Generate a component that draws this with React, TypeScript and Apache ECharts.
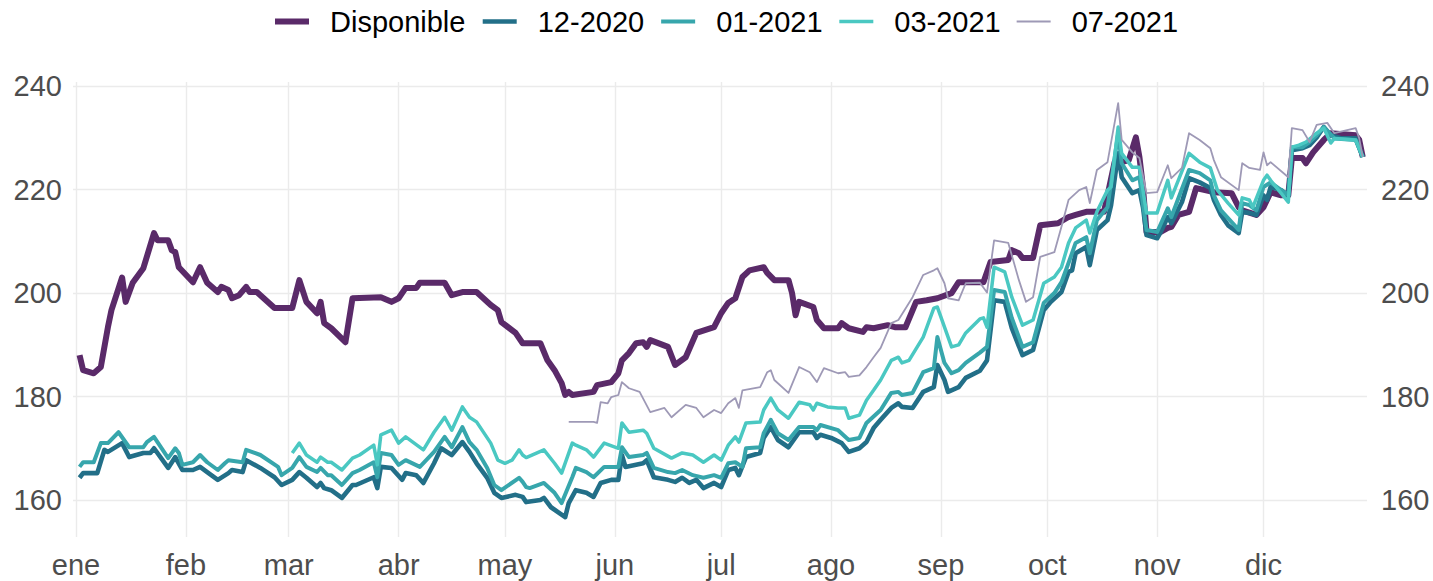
import React, { useEffect, useRef } from "react";
import * as echarts from "echarts";

// Categories / labels
const seriesNames = ["Disponible", "12-2020", "01-2021", "03-2021", "07-2021"];
const monthLabels = ["ene", "feb", "mar", "abr", "may", "jun", "jul", "ago", "sep", "oct", "nov", "dic"];
const yTickLabels = [160, 180, 200, 220, 240];

// Days are day-of-year offsets in 2020 (0 = 1 January 2020)
const dispDays = [1,2,5,7,9,10,13,14,16,19,22,23,26,27,28,29,33,35,37,40,41,43,44,46,48,49,51,56,61,63,65,68,69,70,72,76,78,86,89,91,93,96,97,104,106,109,113,117,119,120,124,126,131,133,135,137,138,139,140,146,147,151,153,154,156,158,160,161,162,167,169,172,175,180,182,184,186,188,190,194,195,197,201,202,203,204,208,209,211,215,216,218,222,223,225,229,231,234,237,240,243,247,249,256,258,263,264,266,267,270,272,277,280,282,285,290,293,295,297,299,300,301,302,306,308,309,311,314,316,321,326,328,329,333,335,337,340,342,343,346,347,349,352,354,361,362,363];
const dispValues = [188,185.1,184.5,185.7,193.4,196.7,203,198.3,202,204.8,211.6,210.2,210.2,208.3,207.9,205,202.1,205,202,200.2,201.2,200.6,199,199.6,201.2,200.2,200.2,197.1,197.1,202.5,198.3,196.1,198.3,194.2,193.2,190.5,199,199.2,198.3,199,201,201,202,202,199.6,200.2,200.2,197.7,196.7,194.4,192.3,190.3,190.3,187,185.1,182.6,180.3,180.9,180.3,180.9,182.2,182.8,184.5,187,188.4,190.3,190.5,189.6,190.9,189.6,186.1,187.6,192.3,193.4,196.1,198.1,199,203.1,204.4,205,203.9,202.5,202.5,200,195.7,198.3,197.3,194.8,193.2,193.2,194.2,193.2,192.5,193.4,193.2,193.8,193.4,193.4,198.3,198.6,199,200,202.1,202.1,206,206.4,208.3,207.7,206.8,206.8,213.1,213.5,214.7,215.1,215.7,215.7,225.3,225.3,225.7,230.1,226.3,220.5,211.8,211.8,212.6,212.8,215.1,215.7,220.3,219.5,219.3,216.6,216,215.1,216.6,219.5,218.9,218.9,226.1,226.1,225.1,227.2,229.6,230.9,230.5,229.6,226.3];

const dec20Days = [1,2,6,8,9,13,15,19,21,22,26,28,30,33,35,37,40,43,44,47,48,52,56,58,61,63,65,68,69,70,72,75,78,79,84,85,86,89,92,93,96,98,101,103,106,109,111,113,116,118,120,124,126,127,131,132,134,138,139,141,144,146,148,151,153,154,155,160,161,163,167,169,171,173,175,177,180,182,184,186,187,189,193,194,196,198,201,204,208,209,210,213,216,218,221,223,225,227,230,232,233,236,239,242,243,245,246,249,251,255,257,259,262,264,267,270,273,275,278,280,281,282,285,286,288,291,292,294,295,298,300,301,302,305,306,308,309,312,314,317,320,321,323,325,328,329,331,333,335,336,337,340,342,343,346,348,350,352,354,357,361,363];
const dec20Values = [164.3,165.2,165.2,169.7,169.3,171,168.3,169.1,169.1,170,166.2,168.3,165.8,165.8,166.4,165.4,163.9,165.2,165.8,165.4,167.7,166.2,164.4,162.9,163.9,165.4,164.3,162.5,163.3,162.3,161.9,160.4,162.9,162.9,164.4,162.3,166.4,166.2,163.9,165.2,164.8,163.3,167.1,170,168.7,171.2,169.3,167.1,164.3,161.4,160.4,161,160.6,159.6,160,160.4,158.6,156.7,159.4,161.9,161.4,160.6,163.3,163.9,163.9,168.7,166.4,167.1,167.7,164.4,163.9,163.5,164.3,163.3,163.9,162.3,163.3,162.5,165.8,166.2,164.8,168.3,169.1,172,174.1,171.6,170.2,173.1,173.1,172,172.6,172,171,169.3,170,171.2,173.9,175.5,177.8,178.7,178,177.8,180.9,181.8,186.1,183.2,180.9,181.8,183.6,185,187,198.6,198.3,193.2,188,189,196.7,198.3,200.2,204.1,204.4,207.7,208.9,205.4,212.2,214.1,217,227,222.4,219.3,219.9,216.6,211.2,210.6,211.8,214.7,213.5,217.6,222.2,221.4,220.3,218,215.1,213.1,211.6,215.7,215.5,215.1,218.9,218,220.5,219.9,218.9,227.6,228,228.6,230.1,232.1,230.5,229.9,229.9,226.3];

const jan21Days = [1,2,5,7,9,12,15,19,20,22,26,28,29,30,33,35,37,40,42,43,47,48,52,57,58,61,63,65,68,69,71,72,75,78,80,84,85,86,89,91,93,97,101,104,106,109,111,113,116,118,120,125,126,127,128,132,135,137,140,141,144,146,149,153,154,156,160,161,163,167,169,171,174,177,180,182,184,186,188,189,193,194,196,198,201,204,208,209,210,215,218,221,223,227,230,232,233,236,239,242,243,245,247,249,251,255,257,259,262,264,267,270,273,276,278,280,282,285,286,288,291,294,295,298,300,302,305,308,309,314,317,320,321,323,328,329,331,333,335,337,342,343,346,348,350,352,355,361,363];
const jan21Values = [166.4,167.3,167.3,171,171,173.1,170.2,170.2,171.2,172.2,168.1,170,169.1,166.8,167.3,168.7,167.3,165.8,167.1,167.7,167.3,169.7,168.7,166.4,164.8,166.2,168.3,166.4,165.4,166.2,164.8,164.8,162.9,165.2,165.8,167.3,164.4,169.1,168.7,166.8,167.7,166.4,169.3,172.2,170.2,174.1,171.2,169.7,166.2,162.9,161.9,164.3,163.5,162.5,162.3,163.3,161.4,159.4,164.4,166.2,165.4,164.4,166.4,166.4,170.2,168.3,168.7,169.1,166.2,165.4,165.2,165.8,164.8,164.3,164.8,164.3,167.1,167.3,166.4,170,170.2,172.9,175.5,172.9,171.6,174.1,174.1,173.5,174.5,173.5,171.6,172,174.9,177.4,180.7,180.9,180.3,180.7,184.7,185.5,191.5,186.5,184.5,185.1,186.5,188.5,189.6,200.6,200.2,195.2,189.6,190.5,198.1,200,202.1,205.8,209.7,210.8,207.7,214.1,216.6,230.9,225.1,221.8,222.4,212.2,211.8,216.4,214.7,223.8,223.2,221.8,218.9,216,212.2,217.4,217,216,220.5,221.4,218.9,228.2,228.2,229.2,230.5,232.1,229.9,229.6,226.3];

const mar21Days = [61,63,65,68,69,71,72,75,78,80,84,85,86,89,91,93,98,101,104,106,109,111,113,117,119,121,123,125,126,127,132,135,137,140,141,144,146,149,153,154,156,160,161,163,168,171,174,177,180,182,184,186,187,189,193,194,196,198,201,204,207,208,209,212,215,217,218,221,223,225,227,230,232,233,235,239,242,243,247,249,251,255,256,257,259,262,264,267,270,273,276,278,280,282,285,286,288,291,292,294,295,298,300,302,305,308,309,314,317,320,322,325,328,329,331,332,335,336,337,342,343,345,347,350,352,354,355,361,363];
const mar21Values = [169.1,171,168.7,167.3,168.3,167.3,167.3,165.8,168.1,168.7,170.6,166.8,172.6,173.5,171,172.2,169.7,173.1,176,173.5,178,176,175.1,171,167.7,167.1,167.7,169.7,168.7,168.2,169.7,167.1,165.2,171,170.6,169.7,168.3,171,170,174.9,173.1,173.5,172.9,170,168.1,169.1,168.7,167.3,168.7,167.7,170.6,172.2,171.2,174.9,175.1,177.4,179.7,177.4,175.8,178.9,178.4,177.4,178.7,178,177.8,177.8,175.8,176.4,179.3,181.2,183.2,187,187.6,186.5,187,191.5,197.1,197.3,189.6,190,192.3,195,195.2,193.4,205,204.1,199.2,193.8,194.8,201.9,203.1,205,209.7,212.6,214.1,211.6,215.7,219.9,220.5,232.1,227,224.3,224.3,215.5,215.5,221.8,218.4,227,225.3,224.2,219.9,217.4,215.1,218.4,218,216.6,221.8,222.8,221.8,217.6,228.2,228.6,229.2,230.9,231.9,229,229.9,229.6,226.3];

const jul21Days = [139,146,147,148,150,151,153,154,156,159,162,166,168,172,175,177,180,182,184,186,187,188,193,195,196,197,201,204,207,209,211,215,217,218,221,223,225,227,230,232,236,239,242,243,245,246,249,251,255,257,259,263,266,268,270,272,276,278,280,283,285,286,288,291,294,295,298,300,302,305,308,309,312,314,317,320,321,323,328,329,331,334,335,336,337,342,343,346,348,350,353,355,361,362,363];
const jul21Values = [175.1,175.1,174.9,178.9,178.7,179.9,180.3,182.8,181.6,180.9,177,177.8,176,178.4,177.8,176,177.4,176.8,178.7,179.7,177.8,181.2,181.8,184.7,185.1,183.2,180.7,185.7,184.7,182.8,185.5,184.5,184.7,183.8,184.1,185.7,187.6,189.4,194.2,194.8,199.2,203.5,204.4,204.8,201.9,199,198.6,201.9,202,200.1,210.2,209.7,202.5,198.3,199.2,207,207.9,212.8,218,219.9,220.5,217.4,223.8,225.3,236.7,229.6,227.2,226.1,219.3,219.5,224.7,222.2,224.2,230.9,229.6,228,225.7,222.4,219.9,225.1,224.2,223.8,227.2,224.7,225.3,222.4,231.9,231.5,229.2,232.5,232.9,230.9,231.9,229.9,226.3];

const seriesDays = [dispDays, dec20Days, jan21Days, mar21Days, jul21Days];
const seriesValues = [dispValues, dec20Values, jan21Values, mar21Values, jul21Values];
const seriesColors = ["#5A2A69", "#226F88", "#37A6AC", "#4AC8C2", "#9E99B6"];
const seriesWidths = [6, 4.6, 4, 3.5, 1.8];

const DAY = 86400000;
const T0 = Date.UTC(2020, 0, 1);
const FONT = '"Liberation Sans", Arial, Helvetica, sans-serif';

export default function App() {
  const ref = useRef<HTMLDivElement>(null);
  useEffect(() => {
    if (!ref.current) return;
    const chart = echarts.init(ref.current, undefined, { renderer: "svg" });
    const series = seriesNames.map((name, k) => ({
      name,
      type: "line",
      data: seriesDays[k].map((d, i) => [T0 + d * DAY, seriesValues[k][i]]),
      symbol: "none",
      showSymbol: false,
      lineStyle: { color: seriesColors[k], width: seriesWidths[k], join: "round", cap: "butt" },
      itemStyle: { color: seriesColors[k] },
      emphasis: { disabled: true },
      z: 2 + k,
    }));
    const yLabelFmt = (v: number) => (yTickLabels.indexOf(Math.round(v * 1000) / 1000) >= 0 ? String(v) : "");
    chart.setOption({
      animation: false,
      useUTC: true,
      backgroundColor: "#FFFFFF",
      textStyle: { fontFamily: FONT },
      legend: {
        data: seriesNames,
        top: 2,
        left: 267,
        itemWidth: 34,
        itemHeight: 14,
        itemGap: 15,
        lineStyle: { width: "inherit", cap: "butt" },
        itemStyle: { opacity: 0, borderWidth: 0, color: "rgba(0,0,0,0)" },
        textStyle: { fontSize: 29, color: "#000000", fontFamily: FONT, padding: [0, 0, 0, 16] },
        selectedMode: false,
      },
      grid: { left: 73, right: 66, top: 82, bottom: 44, containLabel: false },
      xAxis: {
        type: "time",
        min: T0 - 0.85 * DAY,
        max: T0 + 364.2 * DAY,
        splitNumber: 12,
        axisLine: { show: false },
        axisTick: { show: false },
        axisLabel: {
          fontSize: 29,
          color: "#4D4D4D",
          fontFamily: FONT,
          margin: 13,
          hideOverlap: false,
          formatter: (val: number) => {
            const dt = new Date(val);
            return dt.getUTCDate() === 1 && dt.getUTCHours() === 0 ? monthLabels[dt.getUTCMonth()] : "";
          },
        },
        splitLine: { show: true, showMinLine: false, showMaxLine: false, lineStyle: { color: "#EBEBEB", width: 1.4 } },
      },
      yAxis: [
        {
          type: "value",
          position: "left",
          min: 152.85,
          max: 240.8,
          splitNumber: 5,
          axisLine: { show: false },
          axisTick: { show: false },
          axisLabel: { fontSize: 29, color: "#4D4D4D", fontFamily: FONT, margin: 11, formatter: yLabelFmt },
          splitLine: { show: true, showMinLine: false, showMaxLine: false, lineStyle: { color: "#EBEBEB", width: 1.4 } },
        },
        {
          type: "value",
          position: "right",
          min: 152.85,
          max: 240.8,
          splitNumber: 5,
          axisLine: { show: false },
          axisTick: { show: false },
          axisLabel: { fontSize: 29, color: "#4D4D4D", fontFamily: FONT, margin: 14, formatter: yLabelFmt },
          splitLine: { show: false },
        },
      ],
      series,
    });
    return () => chart.dispose();
  }, []);
  return <div ref={ref} style={{ position: "absolute", left: 0, top: 0, width: 1433, height: 581 }} />;
}
